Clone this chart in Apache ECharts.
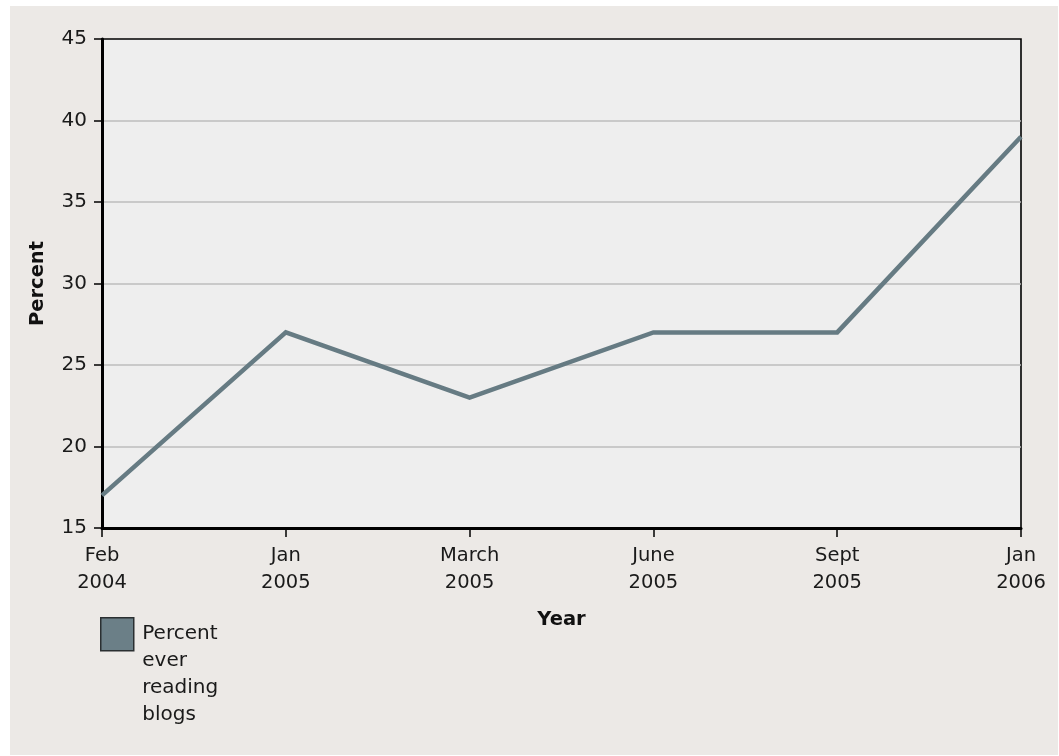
<!DOCTYPE html>
<html>
<head>
<meta charset="utf-8">
<script src="https://cdn.jsdelivr.net/npm/echarts@6/dist/echarts.min.js"></script>
<style>
  html, body { margin: 0; padding: 0; background: #ffffff; }
  #chart { width: 1059px; height: 756px; }
</style>
</head>
<body>
<div id="chart"></div>
<script>
// Survey waves (two-line labels) and share of adults who have ever read blogs
const categories = ['Feb\n2004', 'Jan\n2005', 'March\n2005', 'June\n2005', 'Sept\n2005', 'Jan\n2006'];
const percentEverReading = [17, 27, 23, 27, 27, 39];
const seriesName = 'Percent ever reading blogs';
const legendLines = ['Percent', 'ever', 'reading', 'blogs'];

const FONT = '"DejaVu Sans", Verdana, sans-serif';
const LINE_COLOR = '#667B83';
const TEXT_COLOR = '#1a1a1a';

const chart = echarts.init(document.getElementById('chart'), null, { renderer: 'canvas' });

chart.setOption({
  backgroundColor: '#ffffff',
  animation: false,
  textStyle: { fontFamily: FONT },
  graphic: [
    {
      type: 'rect', z: -10, silent: true,
      shape: { x: 10, y: 6, width: 1048, height: 749 },
      style: { fill: '#ECE9E6' }
    },
    {
      type: 'group', left: 100, top: 617, z: 10,
      children: [
        {
          type: 'rect',
          shape: { x: 0.5, y: 0.5, width: 33, height: 33 },
          style: { fill: '#6B7F87', stroke: '#2a2f31', lineWidth: 1.5 }
        },
        {
          type: 'text', x: 42, y: 3,
          style: {
            text: legendLines.join('\n'),
            font: '20px ' + FONT,
            lineHeight: 27,
            fill: TEXT_COLOR
          }
        }
      ]
    }
  ],
  grid: {
    left: 102, top: 39, right: 38, bottom: 228,
    show: true,
    backgroundColor: '#EEEEEE',
    borderColor: '#000000',
    borderWidth: 1.6
  },
  xAxis: {
    type: 'category',
    data: categories,
    boundaryGap: false,
    name: 'Year',
    nameLocation: 'middle',
    nameGap: 82,
    nameTextStyle: { fontSize: 19.5, fontWeight: 'bold', color: '#111', fontFamily: FONT },
    axisLine: { show: true, lineStyle: { color: '#000', width: 3 } },
    axisTick: { show: true, length: 9, alignWithLabel: true, lineStyle: { color: '#000', width: 1.5 } },
    axisLabel: {
      interval: 0, margin: 14, fontSize: 19.5, lineHeight: 27,
      color: TEXT_COLOR, fontFamily: FONT, align: 'center'
    },
    splitLine: { show: false }
  },
  yAxis: {
    type: 'value',
    min: 15, max: 45, interval: 5,
    name: 'Percent',
    nameLocation: 'middle',
    nameGap: 54,
    nameRotate: 90,
    nameTextStyle: { fontSize: 19.5, fontWeight: 'bold', color: '#111', fontFamily: FONT },
    axisLine: { show: true, lineStyle: { color: '#000', width: 3 } },
    axisTick: { show: true, length: 8, lineStyle: { color: '#000', width: 1.5 } },
    axisLabel: { margin: 15, fontSize: 20, color: TEXT_COLOR, fontFamily: FONT },
    splitLine: {
      show: true, showMinLine: false, showMaxLine: false,
      lineStyle: { color: '#BDBDBD', width: 1.5 }
    }
  },
  series: [
    {
      name: seriesName,
      type: 'line',
      data: percentEverReading,
      symbol: 'none',
      lineStyle: { color: LINE_COLOR, width: 4.5, join: 'miter' },
      itemStyle: { color: LINE_COLOR }
    }
  ]
});
</script>
</body>
</html>
